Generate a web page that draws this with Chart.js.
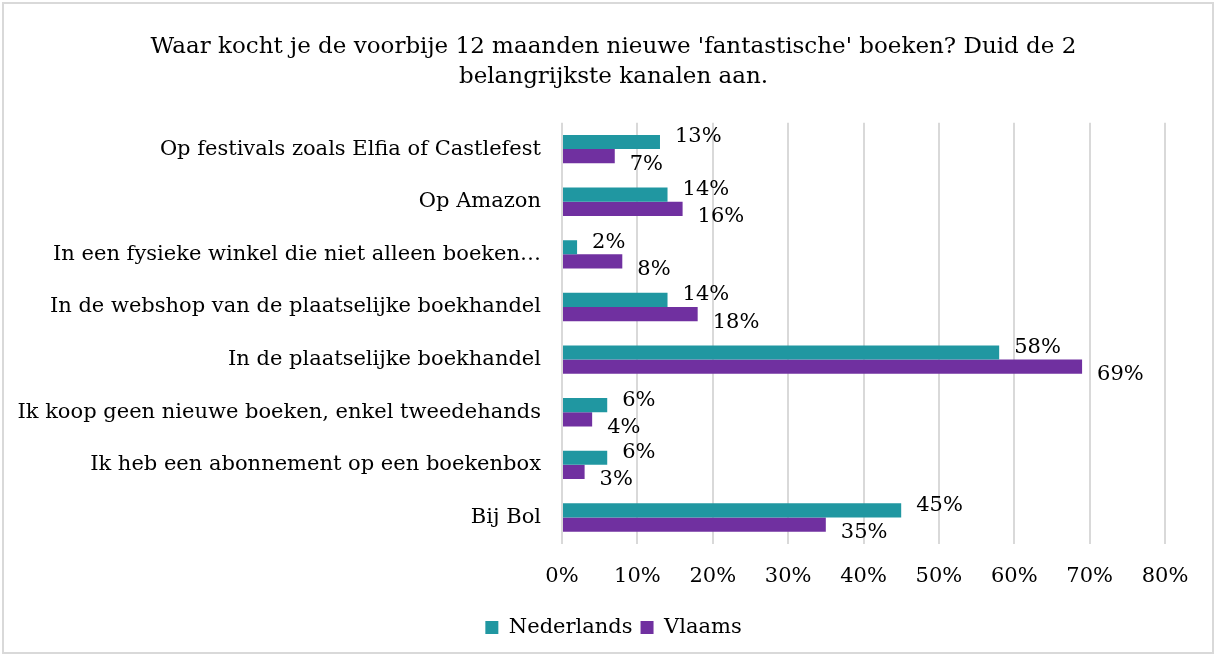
<!DOCTYPE html>
<html>
<head>
<meta charset="utf-8">
<script src="https://cdn.jsdelivr.net/npm/chart.js@4/dist/chart.umd.min.js"></script>
<style>
  html, body { margin: 0; padding: 0; background: #fff; }
  #wrap { width: 1215px; height: 655px; position: relative; }
</style>
</head>
<body>
<div id="wrap"><canvas id="kanalen"></canvas></div>
<script>
const categories = [
    'Op festivals zoals Elfia of Castlefest',
    'Op Amazon',
    'In een fysieke winkel die niet alleen boeken…',
    'In de webshop van de plaatselijke boekhandel',
    'In de plaatselijke boekhandel',
    'Ik koop geen nieuwe boeken, enkel tweedehands',
    'Ik heb een abonnement op een boekenbox',
    'Bij Bol'
];
const nederlands = [13, 14, 2, 14, 58, 6, 6, 45];
const vlaams = [7, 16, 8, 18, 69, 4, 3, 35];
const xTicks = [0, 10, 20, 30, 40, 50, 60, 70, 80];
const titleLines = [
    "Waar kocht je de voorbije 12 maanden nieuwe 'fantastische' boeken? Duid de 2",
    'belangrijkste kanalen aan.'
];

const serif = "'DejaVu Serif', 'Liberation Serif', serif";

const frame = {
    id: 'frame',
    beforeDraw(chart) {
        const ctx = chart.ctx;
        ctx.save();
        ctx.fillStyle = '#fff';
        ctx.fillRect(0, 0, chart.width, chart.height);
        ctx.strokeStyle = '#d9d9d9';
        ctx.lineWidth = 2;
        ctx.strokeRect(3, 3, chart.width - 5, chart.height - 5);
        ctx.restore();
    }
};

// value labels at the end of each bar, teal one nudged up, purple one down
const barLabels = {
    id: 'barLabels',
    afterDatasetsDraw(chart) {
        const ctx = chart.ctx;
        const shift = [-5, 8];
        ctx.save();
        ctx.font = '21px ' + serif;
        ctx.fillStyle = '#000';
        ctx.textAlign = 'left';
        ctx.textBaseline = 'middle';
        chart.data.datasets.forEach((ds, i) => {
            chart.getDatasetMeta(i).data.forEach((bar, j) => {
                ctx.fillText(ds.data[j] + '%', bar.x + 15, bar.y + shift[i]);
            });
        });
        ctx.restore();
    }
};

new Chart(document.getElementById('kanalen'), {
    type: 'bar',
    data: {
        labels: categories,
        datasets: [{
            label: 'Nederlands',
            data: nederlands,
            backgroundColor: '#2097a1',
            categoryPercentage: 0.54,
            barPercentage: 1
        }, {
            label: 'Vlaams',
            data: vlaams,
            backgroundColor: '#7030a0',
            categoryPercentage: 0.54,
            barPercentage: 1
        }]
    },
    options: {
        indexAxis: 'y',
        responsive: true,
        maintainAspectRatio: false,
        animation: false,
        layout: {
            padding: { left: 12, right: 0, top: 0, bottom: 7 }
        },
        plugins: {
            title: {
                display: true,
                text: titleLines,
                color: '#000',
                font: { family: serif, size: 23, weight: 'normal', lineHeight: 1.3 },
                padding: { top: 32, bottom: 31 }
            },
            legend: {
                position: 'bottom',
                labels: {
                    color: '#000',
                    font: { family: serif, size: 21 },
                    boxWidth: 13,
                    boxHeight: 13,
                    padding: 8
                }
            },
            tooltip: { enabled: false }
        },
        scales: {
            x: {
                min: 0,
                max: 80,
                afterBuildTicks(scale) {
                    scale.ticks = xTicks.map(v => ({ value: v }));
                },
                ticks: {
                    color: '#000',
                    font: { family: serif, size: 21 },
                    padding: 20,
                    callback: v => v + '%'
                },
                grid: { color: '#d9d9d9', lineWidth: 2, drawTicks: false },
                border: { display: false }
            },
            y: {
                afterFit(scale) {
                    scale.width = 550;
                },
                ticks: {
                    color: '#000',
                    font: { family: serif, size: 21 },
                    padding: 13,
                    autoSkip: false
                },
                grid: { display: false },
                border: { display: false }
            },
            // empty strip on the right so the 80% label fits like in the original
            yRight: {
                axis: 'y',
                position: 'right',
                afterFit(scale) {
                    scale.width = 50;
                },
                ticks: { display: false },
                grid: { display: false },
                border: { display: false }
            }
        }
    },
    plugins: [frame, barLabels]
});
</script>
</body>
</html>
